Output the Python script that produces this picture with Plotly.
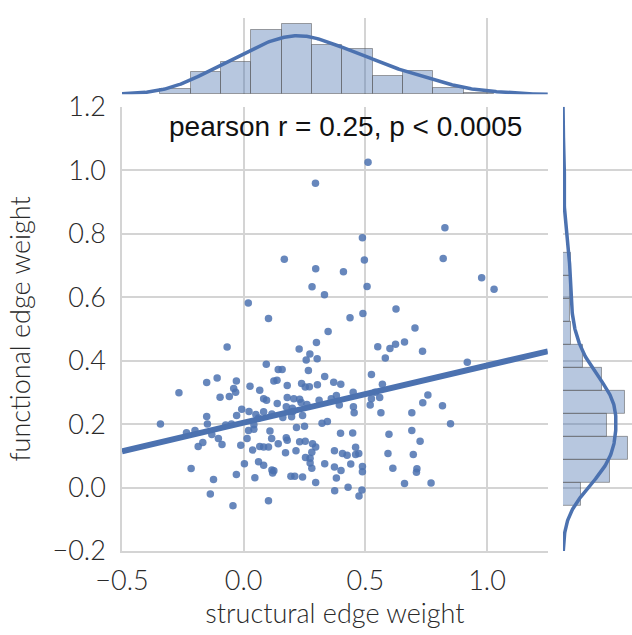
import numpy as np
import plotly.graph_objects as go

# ---------------- data ----------------
struct_w = [
    0.295, 0.167, 0.296, 0.281, 0.332, 0.019, 0.102,
    0.511, 0.827, 0.488, 0.820, 0.496, 0.410, 0.978, 0.507, 1.029, 0.626, 0.437, 0.490,
    0.347, -0.068, 0.299, 0.228, 0.272, 0.257, 0.302, 0.093, 0.142, 0.158, 0.266, 0.333,
    -0.109, -0.152, -0.030, 0.124, 0.137, 0.238, 0.370, -0.266, 0.026, 0.066, 0.179,
    0.253, 0.270, 0.303, -0.041, -0.033, -0.097, -0.059, 0.082, 0.094, 0.138, 0.179,
    0.206, 0.230, 0.236, -0.008, 0.082, 0.175, 0.202, -0.029, 0.061, 0.161, 0.197,
    0.242, -0.152, -0.342, -0.149, -0.074, 0.042, 0.042, -0.235, -0.131, 0.108, 0.217,
    0.250, 0.322, 0.344, -0.104, 0.014, 0.115, 0.175, -0.168, -0.089, -0.187, -0.012,
    0.066, 0.082, 0.102, 0.142, 0.179, 0.230, 0.253, 0.283, 0.296, 0.037, 0.172,
    0.215, 0.280, 0.373, 0.254, 0.273, 0.061, 0.082, 0.003, 0.273, 0.333, 0.373,
    -0.216, 0.280, 0.116, 0.124, 0.119, -0.030, 0.194, 0.210, 0.242, 0.046, 0.381,
    -0.124, 0.296, 0.374, -0.137, 0.102, -0.044, 0.022, 0.020,
    0.704, 0.551, 0.601, 0.624, 0.661, 0.735, 0.582, 0.919, 0.525, 0.399, 0.570,
    0.381, 0.393, 0.525, 0.559, 0.520, 0.757, 0.736, 0.817, 0.451, 0.454, 0.564,
    0.691, 0.850, 0.398, 0.448, 0.597, 0.691, 0.725, 0.460, 0.406, 0.425, 0.460,
    0.473, 0.593, 0.697, 0.440, 0.488, 0.400, 0.488, 0.613, 0.712, 0.710, 0.429,
    0.486, 0.474, 0.661, 0.770,
    0.116, 0.050, 0.200, 0.260, 0.310, 0.360, 0.450, -0.050, -0.200, 0.540,
]
func_w = [
    0.959, 0.720, 0.690, 0.633, 0.608, 0.582, 0.533,
    1.025, 0.819, 0.787, 0.722, 0.717, 0.680, 0.661, 0.634, 0.625, 0.563, 0.535, 0.549,
    0.492, 0.443, 0.457, 0.437, 0.421, 0.402, 0.406, 0.389, 0.372, 0.372, 0.369, 0.350,
    0.345, 0.331, 0.336, 0.336, 0.338, 0.328, 0.332, 0.299, 0.319, 0.307, 0.322,
    0.317, 0.318, 0.324, 0.312, 0.300, 0.285, 0.287, 0.280, 0.275, 0.265, 0.284,
    0.280, 0.278, 0.268, 0.247, 0.239, 0.255, 0.240, 0.227, 0.219, 0.221, 0.223,
    0.227, 0.224, 0.200, 0.200, 0.197, 0.198, 0.184, 0.173, 0.167, 0.178, 0.189,
    0.193, 0.203, 0.208, 0.155, 0.155, 0.155, 0.157, 0.142, 0.136, 0.129, 0.133,
    0.129, 0.128, 0.128, 0.138, 0.149, 0.144, 0.146, 0.138, 0.128, 0.118, 0.110,
    0.116, 0.111, 0.116, 0.095, 0.092, 0.081, 0.070, 0.075, 0.077, 0.075, 0.065,
    0.060, 0.061, 0.055, 0.053, 0.046, 0.041, 0.036, 0.036, 0.033, 0.031, 0.030,
    0.025, 0.016, -0.010, -0.020, -0.042, -0.057, 0.240, 0.180,
    0.503, 0.444, 0.438, 0.452, 0.459, 0.430, 0.408, 0.395, 0.356, 0.326, 0.326,
    0.290, 0.260, 0.280, 0.284, 0.260, 0.292, 0.267, 0.258, 0.255, 0.236, 0.236,
    0.236, 0.201, 0.171, 0.172, 0.168, 0.180, 0.146, 0.127, 0.107, 0.102, 0.104,
    0.107, 0.107, 0.104, 0.074, 0.066, 0.054, 0.050, 0.061, 0.059, 0.048, 0.001,
    -0.008, -0.027, 0.013, 0.014,
    0.232, 0.230, 0.250, 0.262, 0.275, 0.280, 0.300, 0.200, 0.180, 0.300,
]

# marginal histograms (bar heights, as counts)
top_bin_start = -0.342
top_bin_width = 0.1246
top_counts = [3, 13, 19, 38, 42, 29, 27, 11, 14, 4, 1]

right_bin_start = -0.058
right_bin_width = 0.0725
right_counts = [11, 29, 40, 27, 38, 24, 12, 5, 4, 4, 5]

x_ticks = [-0.5, 0.0, 0.5, 1.0]
y_ticks = [-0.2, 0.0, 0.2, 0.4, 0.6, 0.8, 1.0, 1.2]
stat_text = "pearson r = 0.25, p < 0.0005"
x_title = "structural edge weight"
y_title = "functional edge weight"

# ---------------- derived ----------------
xs = np.array(struct_w)
ys = np.array(func_w)
x_range = [-0.5, 1.25]
y_range = [-0.2, 1.2]

slope, intercept = np.polyfit(xs, ys, 1)
lx = np.array(x_range)
ly = slope * lx + intercept


def kde(data, grid):
    n = len(data)
    bw = np.std(data, ddof=1) * n ** (-0.2)
    z = (grid[:, None] - data[None, :]) / bw
    return np.exp(-0.5 * z ** 2).sum(axis=1) / (n * bw * np.sqrt(2 * np.pi))


gx = np.linspace(x_range[0], x_range[1], 400)
gy = np.linspace(y_range[0], y_range[1], 400)
kx = kde(xs, gx)
ky = kde(ys, gy)

top_n = sum(top_counts)
top_centers = [top_bin_start + (i + 0.5) * top_bin_width for i in range(len(top_counts))]
top_dens = [c / (top_n * top_bin_width) for c in top_counts]

right_n = sum(right_counts)
right_centers = [right_bin_start + (i + 0.5) * right_bin_width for i in range(len(right_counts))]
right_dens = [c / (right_n * right_bin_width) for c in right_counts]

BLUE = "#4C72B0"
BAR_FILL = "rgba(76,114,176,0.40)"
BAR_EDGE = "rgba(90,90,90,0.55)"
GRID = "#D4D4D4"
TXT = "#2a2a2a"
FONT = "Lato, DejaVu Sans, sans-serif"

fig = go.Figure()

# main scatter
fig.add_trace(go.Scatter(x=xs, y=ys, mode="markers",
                         marker=dict(color=BLUE, size=7.5, opacity=0.85, line=dict(width=0)),
                         xaxis="x", yaxis="y", showlegend=False))
fig.add_trace(go.Scatter(x=lx, y=ly, mode="lines",
                         line=dict(color=BLUE, width=6),
                         xaxis="x", yaxis="y", showlegend=False))

# top marginal
fig.add_trace(go.Bar(x=top_centers, y=top_dens, width=top_bin_width,
                     marker=dict(color=BAR_FILL, line=dict(color=BAR_EDGE, width=1)),
                     xaxis="x2", yaxis="y2", showlegend=False))
fig.add_trace(go.Scatter(x=gx, y=kx, mode="lines", line=dict(color=BLUE, width=3.5),
                         xaxis="x2", yaxis="y2", showlegend=False))

# right marginal
fig.add_trace(go.Bar(y=right_centers, x=right_dens, width=right_bin_width, orientation="h",
                     marker=dict(color=BAR_FILL, line=dict(color=BAR_EDGE, width=1)),
                     xaxis="x3", yaxis="y3", showlegend=False))
fig.add_trace(go.Scatter(x=ky, y=gy, mode="lines", line=dict(color=BLUE, width=3.5),
                         xaxis="x3", yaxis="y3", showlegend=False))

tickfont = dict(family=FONT, size=27, color=TXT, weight=300)
titlefont = dict(family=FONT, size=27, color=TXT, weight=300)


def fmt(v):
    s = f"{abs(v):.1f}"
    return ("\u2212" + s) if v < 0 else s


main_x_dom = [0, 0.835]
main_y_dom = [0, 0.8333]

fig.update_layout(
    width=632, height=635,
    margin=dict(l=122, r=0, t=11, b=84),
    paper_bgcolor="white", plot_bgcolor="white",
    bargap=0, barmode="overlay",
    font=dict(family=FONT, color=TXT),
    xaxis=dict(domain=main_x_dom, range=x_range, anchor="y",
               tickvals=x_ticks, ticktext=[fmt(v) for v in x_ticks],
               tickfont=tickfont, ticks="", ticklabelstandoff=5,
               showgrid=True, gridcolor=GRID, gridwidth=1.5,
               showline=True, linecolor=GRID, linewidth=1.5, zeroline=False,
               title=dict(text=x_title, font=titlefont, standoff=4)),
    yaxis=dict(domain=main_y_dom, range=y_range, anchor="x",
               tickvals=y_ticks, ticktext=[fmt(v) for v in y_ticks],
               tickfont=tickfont, ticks="", ticklabelstandoff=9,
               showgrid=True, gridcolor=GRID, gridwidth=1.5,
               showline=True, linecolor=GRID, linewidth=1.5, zeroline=False,
               title=dict(text=y_title, font=titlefont, standoff=14)),
    xaxis2=dict(domain=main_x_dom, range=x_range, anchor="y2", matches="x",
                tickvals=x_ticks, showticklabels=False, ticks="",
                showgrid=True, gridcolor=GRID, gridwidth=1.5,
                showline=False, zeroline=False),
    yaxis2=dict(domain=[0.857, 1.0], range=[0, max(top_dens) * 1.08], anchor="x2",
                showticklabels=False, showgrid=False, ticks="",
                showline=False, zeroline=False),
    xaxis3=dict(domain=[0.8647, 1.0], range=[0, max(right_dens) * 69 / 65], anchor="y3",
                showticklabels=False, showgrid=False, ticks="",
                showline=False, zeroline=False),
    yaxis3=dict(domain=main_y_dom, range=y_range, anchor="x3", matches="y",
                tickvals=y_ticks, showticklabels=False, ticks="",
                showgrid=True, gridcolor=GRID, gridwidth=1.5,
                showline=False, zeroline=False),
    annotations=[dict(text=stat_text, xref="x", yref="y", x=0.42, y=1.137,
                      showarrow=False, xanchor="center", yanchor="middle",
                      font=dict(family="Liberation Sans, Arial, sans-serif", size=28, color="#111111"))],
)

fig.write_html("out.html", post_script="document.body.style.margin='0px';",
               config={"displayModeBar": False})
